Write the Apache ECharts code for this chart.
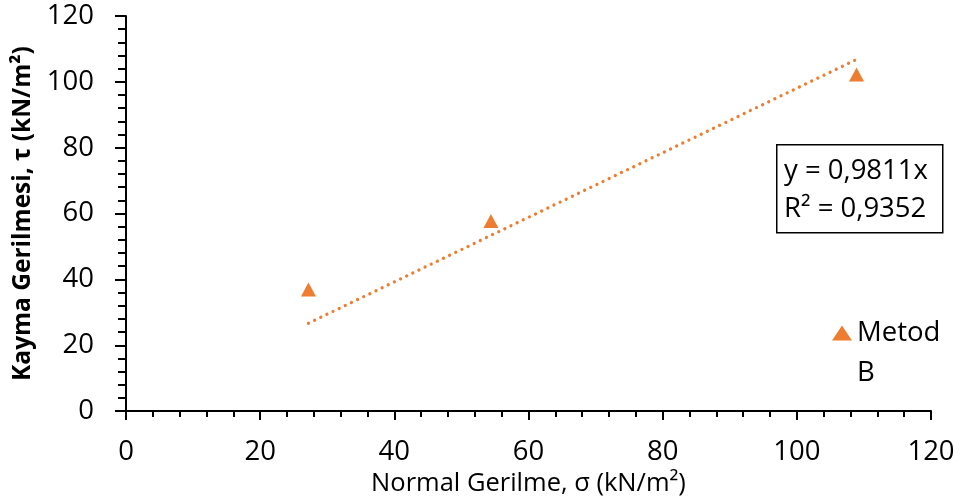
<!DOCTYPE html>
<html>
<head>
<meta charset="utf-8">
<script src="https://cdn.jsdelivr.net/npm/echarts@6/dist/echarts.min.js"></script>
<style>
html,body{margin:0;padding:0;background:#fff;}
#chart{width:960px;height:502px;}
</style>
</head>
<body>
<div id="chart"></div>
<script>
// Data
var normalStress = [27.2, 54.4, 108.9];
var shearStress = [36.9, 57.7, 102.2];
var trendX = [27.2, 108.9];
var trendY = [26.7, 106.8];
var xTicks = [0, 20, 40, 60, 80, 100, 120];
var yTicks = [0, 20, 40, 60, 80, 100, 120];
var seriesName = 'Metod B';
var legendLines = ['Metod', 'B'];
var equationText = 'y = 0,9811x';
var r2Text = 'R² = 0,9352';

var FONT = '"Open Sans", "Noto Sans", sans-serif';
var ORANGE = '#ED7D31';

var chart = echarts.init(document.getElementById('chart'), null, {renderer: 'canvas'});

var scatterData = normalStress.map(function (x, i) { return [x, shearStress[i]]; });
var trendData = trendX.map(function (x, i) { return [x, trendY[i]]; });

chart.setOption({
  animation: false,
  backgroundColor: '#ffffff',
  grid: {left: 126, right: 29, top: 16, bottom: 89, containLabel: false},
  xAxis: {
    type: 'value',
    min: xTicks[0], max: xTicks[xTicks.length - 1], interval: 20,
    name: 'Normal Gerilme, σ (kN/m²)',
    nameLocation: 'middle',
    nameGap: 54,
    nameTextStyle: {fontFamily: FONT, fontSize: 25.5, color: '#000'},
    axisLine: {show: true, onZero: false, lineStyle: {color: '#000', width: 2}},
    axisTick: {show: true, inside: false, length: 9, lineStyle: {color: '#000', width: 2}},
    minorTick: {show: true, splitNumber: 5, length: 6, lineStyle: {color: '#000', width: 2}},
    axisLabel: {fontFamily: FONT, fontSize: 27.5, color: '#000', margin: 27},
    splitLine: {show: false}
  },
  yAxis: {
    type: 'value',
    min: yTicks[0], max: yTicks[yTicks.length - 1], interval: 20,
    name: 'Kayma Gerilmesi, τ (kN/m²)',
    nameLocation: 'middle',
    nameGap: 88,
    nameRotate: 90,
    nameTextStyle: {fontFamily: FONT, fontSize: 24.5, fontWeight: 'bold', color: '#000'},
    axisLine: {show: true, onZero: false, lineStyle: {color: '#000', width: 2}},
    axisTick: {show: true, inside: false, length: 11, lineStyle: {color: '#000', width: 2}},
    minorTick: {show: true, splitNumber: 5, length: 8, lineStyle: {color: '#000', width: 2}},
    axisLabel: {fontFamily: FONT, fontSize: 27.5, color: '#000', margin: 32},
    splitLine: {show: false}
  },
  legend: {
    show: true,
    left: 832,
    top: 273,
    padding: 0,
    orient: 'vertical',
    itemWidth: 20,
    itemHeight: 15,
    data: [{name: seriesName, icon: 'triangle'}],
    formatter: function () { return '\u00a0\n' + legendLines.join('\n'); },
    textStyle: {fontFamily: FONT, fontSize: 27.5, color: '#000', lineHeight: 40}
  },
  series: [
    {
      name: 'trend',
      type: 'line',
      data: trendData,
      showSymbol: false,
      symbol: 'none',
      silent: true,
      lineStyle: {color: ORANGE, width: 3.3, type: [0.01, 6.8], cap: 'round'},
      z: 2
    },
    {
      name: seriesName,
      type: 'scatter',
      data: scatterData,
      symbol: 'triangle',
      symbolSize: [15, 14],
      itemStyle: {color: ORANGE, opacity: 1},
      z: 3
    }
  ],
  graphic: [
    {
      type: 'rect',
      left: 776, top: 144,
      shape: {width: 166, height: 88},
      style: {fill: '#fff', stroke: '#000', lineWidth: 1.5},
      z: 10
    },
    {
      type: 'text',
      left: 784, top: 152,
      style: {text: equationText + '\n' + r2Text, font: '27.5px ' + FONT, fill: '#000', lineHeight: 38},
      z: 11
    }
  ]
});
</script>
</body>
</html>
